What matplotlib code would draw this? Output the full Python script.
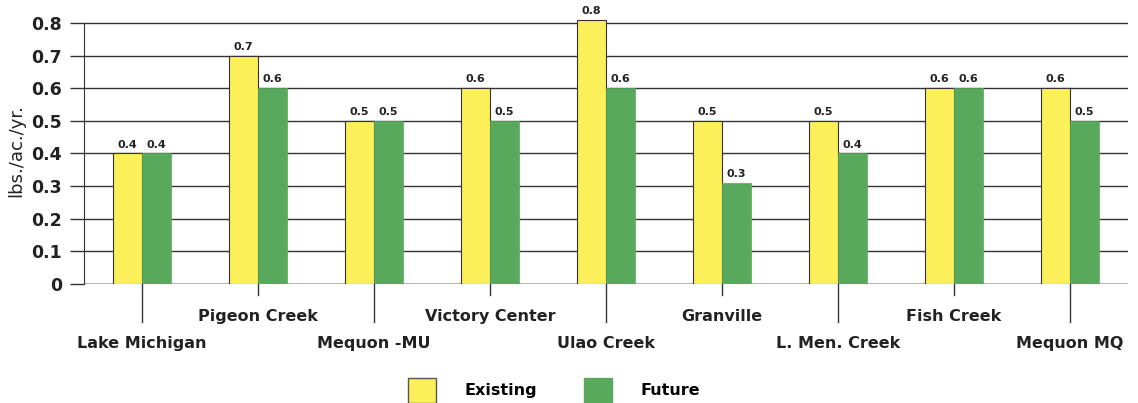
import numpy as np
import matplotlib.pyplot as plt
from matplotlib.patches import Patch

# data
sites = ['Lake Michigan', 'Pigeon Creek', 'Mequon -MU', 'Victory Center', 'Ulao Creek',
         'Granville', 'L. Men. Creek', 'Fish Creek', 'Mequon MQ']
existing = [0.40, 0.70, 0.50, 0.60, 0.81, 0.50, 0.50, 0.60, 0.60]
future = [0.40, 0.60, 0.50, 0.50, 0.60, 0.31, 0.40, 0.60, 0.50]
existing_lbl = ['0.4', '0.7', '0.5', '0.6', '0.8', '0.5', '0.5', '0.6', '0.6']
future_lbl = ['0.4', '0.6', '0.5', '0.5', '0.6', '0.3', '0.4', '0.6', '0.5']
yticks = [0, 0.1, 0.2, 0.3, 0.4, 0.5, 0.6, 0.7, 0.8]

plt.rcParams['font.family'] = ['DejaVu Sans']

yellow = '#fbf05a'
green = '#58a95c'
ink = '#222222'

fig = plt.figure(figsize=(11.38, 4.03), dpi=100)
ax = fig.add_axes([0.0738, 0.2953, 0.9174, 0.664])

x = np.arange(len(sites))
w = 0.25
ax.bar(x - w / 2, existing, w, color=yellow, edgecolor='#333333', linewidth=0.8, zorder=3)
ax.bar(x + w / 2, future, w, color=green, edgecolor=green, linewidth=0.5, zorder=3)

for i in range(len(sites)):
    ax.text(x[i] - w / 2, existing[i] + 0.012, existing_lbl[i], ha='center', va='bottom',
            fontsize=8, fontweight='bold', color=ink)
    ax.text(x[i] + w / 2, future[i] + 0.012, future_lbl[i], ha='center', va='bottom',
            fontsize=8, fontweight='bold', color=ink)

ax.set_xlim(-0.5, len(sites) - 0.5)
ax.set_ylim(0, 0.82)
ax.set_yticks(yticks)
ax.set_yticklabels(['0' if t == 0 else f'{t:.1f}' for t in yticks], fontsize=12.5,
                   fontweight='bold', color=ink)
ax.tick_params(axis='y', length=10, width=1, color='#333333', pad=6)
ax.yaxis.grid(True, color='#333333', linewidth=1, zorder=0)

ax.set_xticks(x)
ax.set_xticklabels([])
ax.tick_params(axis='x', length=0)
# staggered category labels with connector ticks
for i, name in enumerate(sites):
    low = (i % 2 == 0)
    ax.plot([x[i], x[i]], [0, -0.117 if low else -0.034], color='#333333', lw=1,
            clip_on=False, zorder=1)
    ax.text(x[i], -0.183 if low else -0.10, name, ha='center', va='center',
            fontsize=11.5, fontweight='bold', color=ink)

for s in ['top', 'right', 'bottom']:
    ax.spines[s].set_visible(False)
ax.spines['left'].set_bounds(0, 0.8)
ax.spines['left'].set_color('#333333')
ax.axhline(0, color='#333333', lw=1, zorder=2)

ax.set_ylabel('lbs./ac./yr.', fontsize=13, labelpad=4, color=ink)

handles = [Patch(facecolor=yellow, edgecolor='#555555', label='Existing'),
           Patch(facecolor=green, edgecolor=green, label='Future')]
fig.legend(handles=handles, loc='lower center', bbox_to_anchor=(0.487, -0.035), ncol=2,
           frameon=False, handlelength=1.75, handleheight=2.0,
           columnspacing=2.9, handletextpad=1.8, prop={'weight': 'bold', 'size': 11.5})

fig.savefig('out.png', dpi=100)
